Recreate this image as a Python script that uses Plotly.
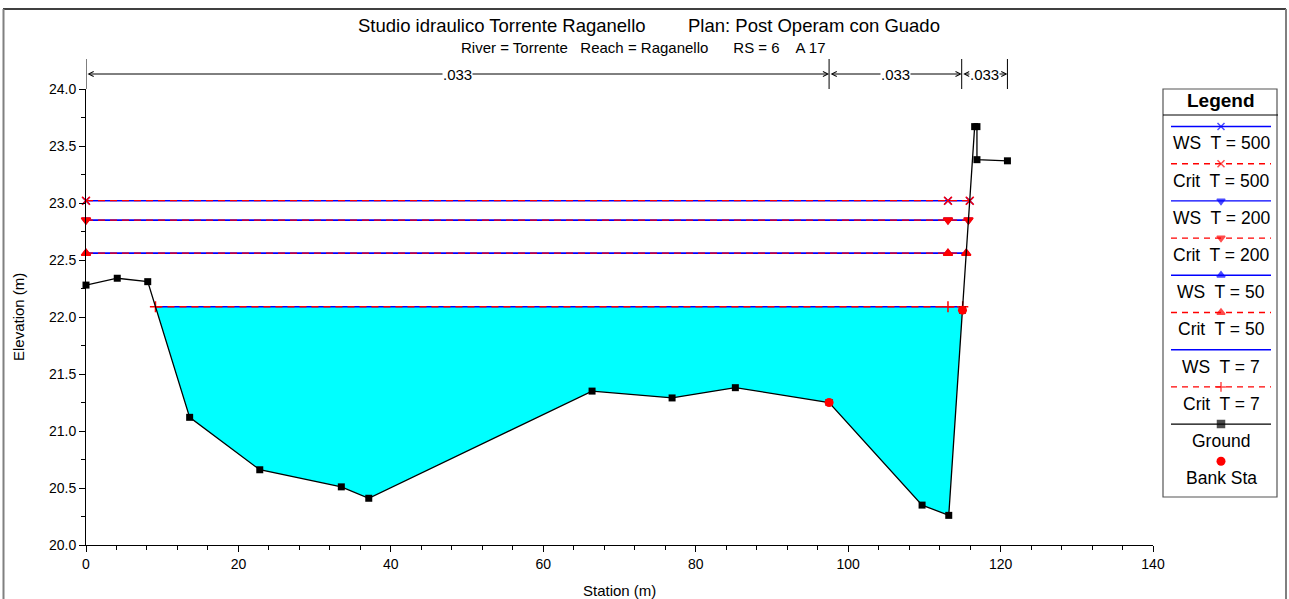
import numpy as np
import plotly.graph_objects as go

W, H = 1289, 599

# ---------------- data ----------------
ground_sta = [0, 4.1, 8.1, 13.6, 22.8, 33.5, 37.1, 66.4, 76.9, 85.2, 97.5,
              109.7, 113.2, 115.0, 116.6, 116.9, 116.9, 120.9]
ground_elev = [22.28, 22.34, 22.31, 21.12, 20.66, 20.51, 20.41, 21.35, 21.29,
               21.38, 21.25, 20.35, 20.26, 22.06, 23.67, 23.67, 23.38, 23.37]
bank_sta = [97.5, 115.0]
bank_elev = [21.25, 22.06]

profiles = ["T = 500", "T = 200", "T = 50", "T = 7"]
ws_elev = [23.02, 22.85, 22.56, 22.09]
crit_elev = [23.02, 22.85, 22.56, 22.09]
ws_symbols = ["x-thin", "triangle-down", "triangle-up", None]
crit_symbols = ["x-thin", "triangle-down", "triangle-up", "cross-thin"]
mid_marker_sta = 113.1

n_bounds = [0, 97.5, 114.9, 120.9]
n_values = [".033", ".033", ".033"]

title_left = "Studio idraulico Torrente Raganello"
title_right = "Plan: Post Operam con Guado"
subtitle = "River = Torrente   Reach = Raganello      RS = 6    A 17"

FONT = "Liberation Sans, Arial, sans-serif"
NARROW = "Liberation Sans Narrow, Liberation Sans, Arial, sans-serif"


def px(x):
    return x / W


def py(y):
    return 1 - y / H


gs = np.array(ground_sta, dtype=float)
ge = np.array(ground_elev, dtype=float)
thalweg = int(np.argmin(ge))


def left_cross(level):
    if ge[0] < level:
        return gs[0]
    for i in range(thalweg):
        if ge[i] >= level > ge[i + 1]:
            return gs[i] + (ge[i] - level) / (ge[i] - ge[i + 1]) * (gs[i + 1] - gs[i])
    return gs[0]


def right_cross(level):
    for i in range(thalweg, len(gs) - 1):
        if ge[i] <= level < ge[i + 1]:
            return gs[i] + (level - ge[i]) / (ge[i + 1] - ge[i]) * (gs[i + 1] - gs[i])
    return gs[-1]


fig = go.Figure()

# ---- water fill for lowest profile ----
lvl = ws_elev[-1]
xl, xr = left_cross(lvl), right_cross(lvl)
inside = (gs > xl) & (gs < xr)
fx = [xl] + list(gs[inside]) + [xr, xl]
fy = [lvl] + list(ge[inside]) + [lvl, lvl]
fig.add_trace(go.Scatter(x=fx, y=fy, mode="lines", fill="toself",
                         fillcolor="#00ffff", line=dict(width=0, color="#00ffff"),
                         hoverinfo="skip", showlegend=False))

# ---- WS and Crit lines ----
for name, wl, cl, wsym, csym in zip(profiles, ws_elev, crit_elev, ws_symbols, crit_symbols):
    a, b = left_cross(wl), right_cross(wl)
    xs = [a, mid_marker_sta, b]
    fig.add_trace(go.Scatter(
        x=xs, y=[wl] * 3, mode="lines+markers" if wsym else "lines",
        line=dict(color="#0000ff", width=1.6),
        marker=dict(symbol=wsym or "circle", size=7, color="#0000ff",
                    line=dict(color="#0000ff", width=1.5)),
        cliponaxis=False, showlegend=False, name="WS " + name))
    a, b = left_cross(cl), right_cross(cl)
    xs = [a, mid_marker_sta, b]
    fig.add_trace(go.Scatter(
        x=xs, y=[cl] * 3, mode="lines+markers",
        line=dict(color="#ff0000", width=1.3, dash="7px,5px"),
        marker=dict(symbol=csym, size=8, color="#ff0000",
                    line=dict(color="#ff0000", width=1.5)),
        cliponaxis=False, showlegend=False, name="Crit " + name))

# ---- ground ----
fig.add_trace(go.Scatter(x=ground_sta, y=ground_elev, mode="lines+markers",
                         line=dict(color="black", width=1.3),
                         marker=dict(symbol="square", size=7, color="black"),
                         cliponaxis=False, showlegend=False, name="Ground"))
fig.add_trace(go.Scatter(x=bank_sta, y=bank_elev, mode="markers",
                         marker=dict(symbol="circle", size=9, color="#ff0000"),
                         cliponaxis=False, showlegend=False, name="Bank Sta"))

# ---- n-value band (separate invisible subplot x2/y2) ----
vx, vy = [], []
for b in n_bounds:
    vx += [b, b, None]
    vy += [0, 1, None]
fig.add_trace(go.Scatter(x=vx, y=vy, mode="lines", xaxis="x2", yaxis="y2",
                         line=dict(color="black", width=1), showlegend=False,
                         hoverinfo="skip"))

annotations = []
for (a, b), nv in zip(zip(n_bounds[:-1], n_bounds[1:]), n_values):
    annotations.append(dict(x=b, y=0.5, ax=a, ay=0.5, xref="x2", yref="y2",
                            axref="x2", ayref="y2", showarrow=True, text="",
                            arrowside="end+start", arrowhead=5, startarrowhead=5,
                            arrowsize=1, startarrowsize=1, arrowwidth=1,
                            arrowcolor="black", standoff=0, startstandoff=0))
    annotations.append(dict(x=(a + b) / 2, y=0.5, xref="x2", yref="y2",
                            text=nv, showarrow=False, bgcolor="white",
                            borderpad=0, font=dict(family=FONT, size=15, color="black")))

# ---- titles ----
annotations += [
    dict(x=px(356), y=py(25), xref="paper", yref="paper", xanchor="left", yanchor="middle",
         text=title_left, showarrow=False, font=dict(family=FONT, size=18.5, color="black")),
    dict(x=px(686), y=py(25), xref="paper", yref="paper", xanchor="left", yanchor="middle",
         text=title_right, showarrow=False, font=dict(family=FONT, size=18.5, color="black")),
    dict(x=px(643), y=py(47), xref="paper", yref="paper", xanchor="center", yanchor="middle",
         text=subtitle, showarrow=False,
         font=dict(family=NARROW, size=15, color="black")),
    dict(x=px(18), y=py(317), xref="paper", yref="paper", xanchor="center", yanchor="middle",
         text="Elevation (m)", textangle=-90, showarrow=False,
         font=dict(family=FONT, size=15, color="black")),
    dict(x=px(619), y=py(590), xref="paper", yref="paper", xanchor="center", yanchor="middle",
         text="Station (m)", showarrow=False, font=dict(family=FONT, size=15, color="black")),
]

# ---- custom legend (subplot x3/y3) ----
leg_items = []
for name, wsym, csym in zip(profiles, ws_symbols, crit_symbols):
    leg_items.append(("WS  " + name, "#0000ff", "solid", wsym))
    leg_items.append(("Crit  " + name, "#ff0000", "6px,5px", csym))
leg_items.append(("Ground", "black", "solid", "square"))
leg_items.append(("Bank Sta", "#ff0000", None, "circle"))

box_l, box_r, box_t, box_b = 1163, 1277, 89, 497
first_line, step = 126.5, 37.2
for i, (label, col, dash, sym) in enumerate(leg_items):
    yl = first_line + step * i
    if dash is not None:
        fig.add_trace(go.Scatter(x=[1171, 1221, 1271], y=[yl] * 3, xaxis="x3", yaxis="y3",
                                 mode="lines+markers" if sym else "lines",
                                 line=dict(color=col, width=1.4, dash=dash),
                                 marker=dict(symbol=sym or "circle", size=[0, 7, 0], color=col,
                                             line=dict(color=col, width=1.5)),
                                 cliponaxis=False, showlegend=False, hoverinfo="skip"))
    else:
        fig.add_trace(go.Scatter(x=[1221], y=[yl], xaxis="x3", yaxis="y3", mode="markers",
                                 marker=dict(symbol=sym, size=9, color=col),
                                 cliponaxis=False, showlegend=False, hoverinfo="skip"))
    annotations.append(dict(x=px(1221), y=py(yl + 16.8), xref="paper", yref="paper",
                            xanchor="center", yanchor="middle", text=label, showarrow=False,
                            font=dict(family=FONT, size=17.5, color="black")))
annotations.append(dict(x=px(1221), y=py(100), xref="paper", yref="paper",
                        xanchor="center", yanchor="middle", text="<b>Legend</b>", showarrow=False,
                        font=dict(family=FONT, size=19, color="black")))

shapes = [
    dict(type="rect", xref="paper", yref="paper", x0=px(box_l), x1=px(box_r),
         y0=py(box_b), y1=py(box_t), line=dict(color="#555555", width=1.2)),
    dict(type="line", xref="paper", yref="paper", x0=px(box_l), x1=px(box_r + 1),
         y0=py(115), y1=py(115), line=dict(color="black", width=1)),
    # outer frame
    dict(type="line", xref="paper", yref="paper", x0=px(3), x1=px(1286),
         y0=py(9), y1=py(9), line=dict(color="black", width=1.5)),
    dict(type="line", xref="paper", yref="paper", x0=px(3.5), x1=px(3.5),
         y0=py(9), y1=py(599), line=dict(color="#808080", width=2)),
    dict(type="line", xref="paper", yref="paper", x0=px(1286), x1=px(1286),
         y0=py(9), y1=py(599), line=dict(color="#808080", width=2)),
]

x_dom = [px(86), px(1153)]
y_dom = [py(545), py(89)]

fig.update_layout(
    width=W, height=H, autosize=False,
    margin=dict(l=0, r=0, t=0, b=0, autoexpand=False),
    paper_bgcolor="white", plot_bgcolor="rgba(0,0,0,0)",
    showlegend=False,
    annotations=annotations, shapes=shapes,
    xaxis=dict(domain=x_dom, range=[0, 140], dtick=20, tick0=0, ticks="outside",
               ticklen=6, tickcolor="black", showline=True, linecolor="black",
               linewidth=1, showgrid=False, zeroline=False,
               tickfont=dict(family=FONT, size=14, color="black"),
               minor=dict(dtick=4, ticks="outside", ticklen=4, tickcolor="black",
                          showgrid=False)),
    yaxis=dict(domain=y_dom, range=[20, 24], dtick=0.5, tick0=20, tickformat=".1f",
               ticks="outside", ticklen=6, tickcolor="black", showline=True,
               linecolor="black", linewidth=1, showgrid=False, zeroline=False,
               tickfont=dict(family=FONT, size=14, color="black"),
               minor=dict(dtick=0.25, ticks="outside", ticklen=4, tickcolor="black",
                          showgrid=False)),
    xaxis2=dict(domain=x_dom, range=[0, 140], visible=False, anchor="y2"),
    yaxis2=dict(domain=[py(89), py(59)], range=[0, 1], visible=False, anchor="x2"),
    xaxis3=dict(domain=[px(box_l), px(box_r)], range=[box_l, box_r], visible=False,
                anchor="y3"),
    yaxis3=dict(domain=[py(box_b), py(box_t)], range=[box_b, box_t], visible=False,
                anchor="x3"),
)

fig.write_html(
    "out.html",
    config={"displayModeBar": False},
    post_script="document.body.style.margin='0';"
                "document.body.style.overflow='hidden';"
                "document.documentElement.style.overflow='hidden';",
)
